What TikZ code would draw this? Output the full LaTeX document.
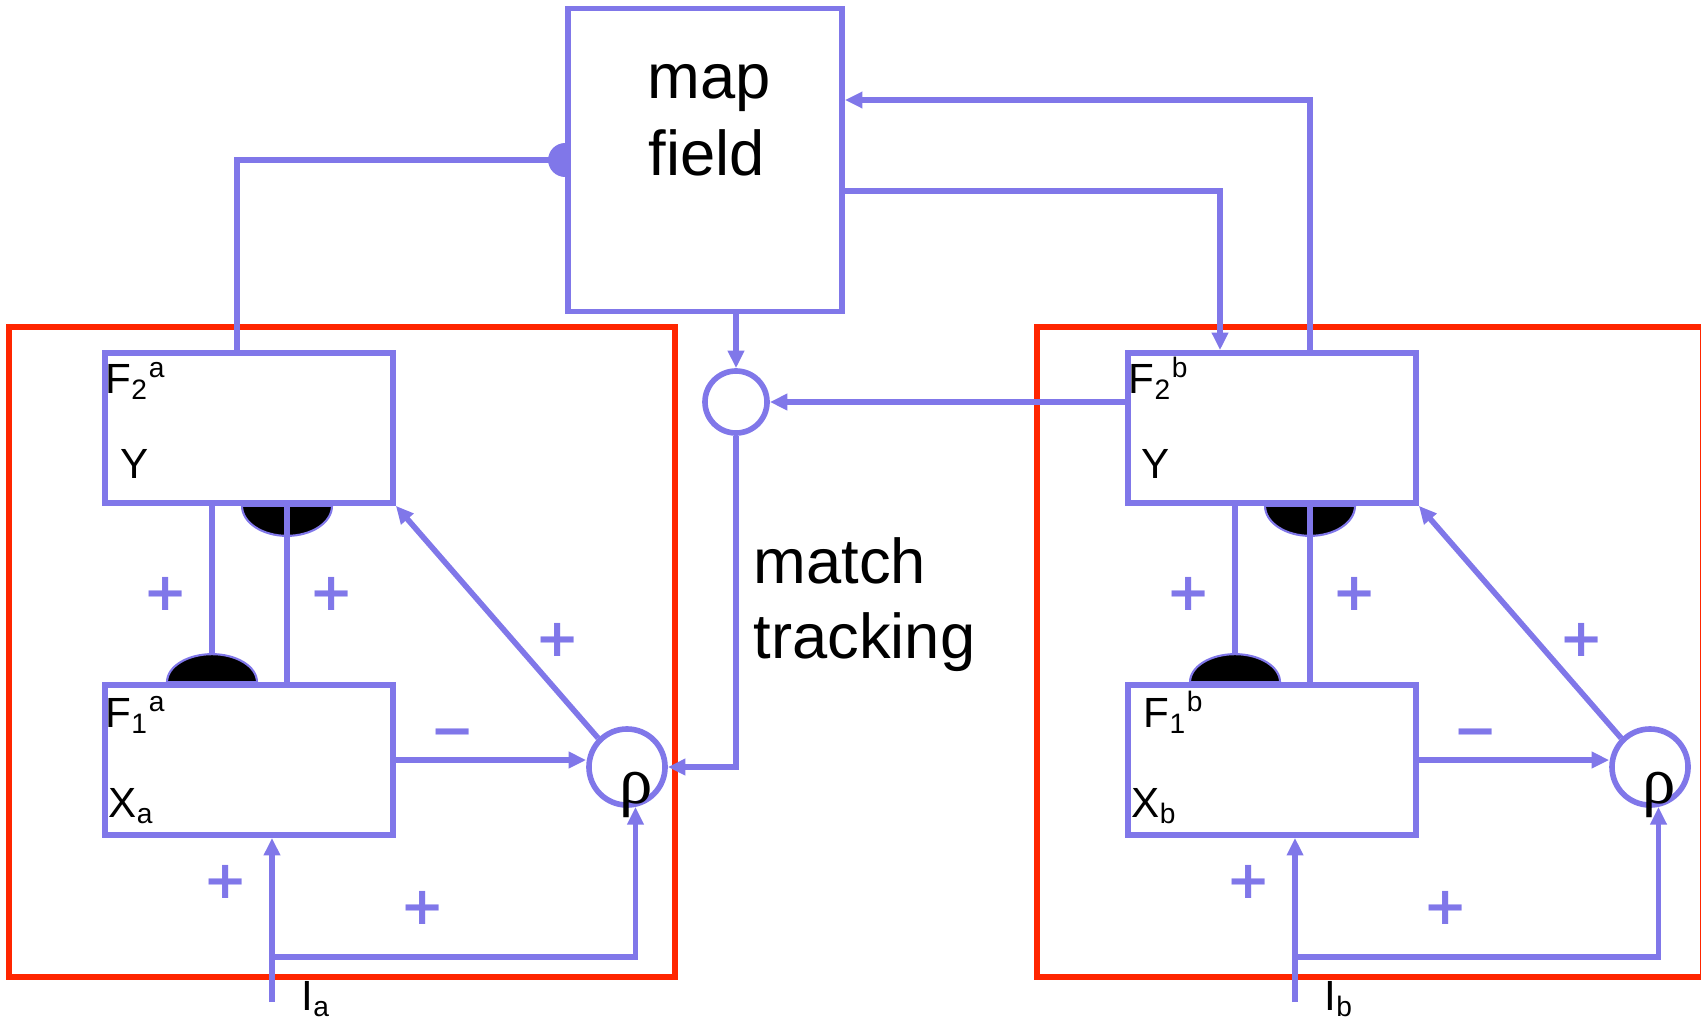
\documentclass[tikz,border=0pt]{standalone}
\usepackage{fontspec}
\setmainfont{Liberation Sans}
\newfontfamily\rhofont{Liberation Serif}
\newfontfamily\signfont{DejaVu Sans}
\usetikzlibrary{arrows.meta}
\definecolor{lav}{RGB}{128,119,233}
\definecolor{boxred}{RGB}{255,38,0}
\tikzset{
  wire/.style={draw=lav, line width=1.6pt},
  arr/.style={wire, -{Triangle[length=5pt,width=4.5pt]}},
  layer/.style={draw=lav, line width=1.6pt, rectangle, minimum width=2.88cm, minimum height=1.5cm, inner sep=0pt},
  sumnode/.style={draw=lav, line width=1.6pt, circle, inner sep=0pt},
  syn/.style={fill=black, draw=lav, line width=0.6pt},
  sign/.style={text=lav, inner sep=0pt, font=\signfont\bfseries\fontsize{15}{15}\selectfont},
  lbl/.style={anchor=base west, inner sep=0pt, font=\fontsize{12}{14}\selectfont},
  big/.style={inner sep=0pt, font=\fontsize{18}{22}\selectfont},
  rhotxt/.style={anchor=base, inner sep=0pt, font=\rhofont\fontsize{19}{19}\selectfont},
  redbox/.style={draw=boxred, line width=1.6pt}
}

\begin{document}
\begin{tikzpicture}[x=0.01cm, y=-0.01cm]
    \useasboundingbox (0,0) rectangle (1701,1024);

    % module frames
    \draw[redbox] (9,327) rectangle (675,977);
    \draw[redbox] (1037,327) rectangle (1703,977);

    % map field and match tracking
    \node[draw=lav, line width=1.6pt, minimum width=2.74cm, minimum height=3.03cm] (map) at (705,160) {};
    \node[big, anchor=base] (maptxt) at (709,98) {map};
    \node[big, anchor=base] (fieldtxt) at (707,175) {field};
    \node[sumnode, minimum size=0.62cm] (mt) at (736,402) {};
    \node[big, anchor=base west] (mttxt1) at (753,583) {match};
    \node[big, anchor=base west] (mttxt2) at (753,658) {tracking};

    % ART a side
    \node[layer] (f2a) at (249,428) {};
    \node[layer] (f1a) at (249,760) {};
    \node[sumnode, minimum size=0.76cm] (rhoa) at (627,767) {};
    \node[lbl] (f2atxt) at (105,393) {F\textsubscript{2}\textsuperscript{a}};
    \node[lbl] (yatxt) at (120,478) {Y};
    \node[lbl] (f1atxt) at (105,727) {F\textsubscript{1}\textsuperscript{a}};
    \node[lbl] (xatxt) at (108,817) {X\textsubscript{a}};
    \node[lbl] (iatxt) at (301,1010) {I\textsubscript{a}};
    \node[rhotxt] (rhoatxt) at (636,803) {ρ};

    \coordinate (tda) at (212,0);
    \coordinate (bua) at (287,0);
    \filldraw[syn] (bua |- f2a.south) ++(-45,0) arc[start angle=180, end angle=0, x radius=45, y radius=30] -- cycle;
    \draw[wire] (tda |- f2a.south) -- (tda |- f1a.north);
    \draw[wire] (bua |- f1a.north) -- (bua |- f2a.south);
    \filldraw[syn] (tda |- f1a.north) ++(-45,0) arc[start angle=180, end angle=360, x radius=45, y radius=28] -- cycle;

    \draw[arr] (rhoa.135) -- (f2a.south east);
    \draw[arr] (f1a.east) -- (f1a.east -| rhoa.west);
    \coordinate (ina) at (272,1002);
    \coordinate (bra) at (272,957);
    \draw[arr] (ina) -- (ina |- f1a.south);
    \draw[arr] (bra) -| (rhoa.-78);

    \node[sign] (pa1) at (166,594) {+};
    \node[sign] (pa2) at (332,594) {+};
    \node[sign] (pa3) at (558,640) {+};
    \node[sign] (pa4) at (226,882) {+};
    \node[sign] (pa5) at (423,908) {+};
    \node[sign] (ma1) at (453,739) {−};

    % ART b side
    \node[layer] (f2b) at (1272,428) {};
    \node[layer] (f1b) at (1272,760) {};
    \node[sumnode, minimum size=0.76cm] (rhob) at (1650,767) {};
    \node[lbl] (f2btxt) at (1128,393) {F\textsubscript{2}\textsuperscript{b}};
    \node[lbl] (ybtxt) at (1141,478) {Y};
    \node[lbl] (f1btxt) at (1143,727) {F\textsubscript{1}\textsuperscript{b}};
    \node[lbl] (xbtxt) at (1131,817) {X\textsubscript{b}};
    \node[lbl] (ibtxt) at (1324,1010) {I\textsubscript{b}};
    \node[rhotxt] (rhobtxt) at (1659,803) {ρ};

    \coordinate (tdb) at (1235,0);
    \coordinate (bub) at (1310,0);
    \filldraw[syn] (bub |- f2b.south) ++(-45,0) arc[start angle=180, end angle=0, x radius=45, y radius=30] -- cycle;
    \draw[wire] (tdb |- f2b.south) -- (tdb |- f1b.north);
    \draw[wire] (bub |- f1b.north) -- (bub |- f2b.south);
    \filldraw[syn] (tdb |- f1b.north) ++(-45,0) arc[start angle=180, end angle=360, x radius=45, y radius=28] -- cycle;

    \draw[arr] (rhob.135) -- (f2b.south east);
    \draw[arr] (f1b.east) -- (f1b.east -| rhob.west);
    \coordinate (inb) at (1295,1002);
    \coordinate (brb) at (1295,957);
    \draw[arr] (inb) -- (inb |- f1b.south);
    \draw[arr] (brb) -| (rhob.-78);

    \node[sign] (pb1) at (1189,594) {+};
    \node[sign] (pb2) at (1355,594) {+};
    \node[sign] (pb3) at (1582,640) {+};
    \node[sign] (pb4) at (1249,882) {+};
    \node[sign] (pb5) at (1446,908) {+};
    \node[sign] (mb1) at (1476,739) {−};

    % links through the map field
    \coordinate (froma) at (237,160);
    \draw[wire] (froma |- f2a.north) -- (froma) -- (map.west);
    \fill[lav] (map.west) ++(0,-17) arc[start angle=270, end angle=90, radius=17] -- cycle;
    \coordinate (tob) at (1220,191);
    \draw[arr] (map.east |- tob) -- (tob) -- (tob |- f2b.north);
    \coordinate (fromb) at (1310,100);
    \draw[arr] (fromb |- f2b.north) -- (fromb) -- (fromb -| map.east);

    % match tracking loop
    \draw[arr] (mt.north |- map.south) -- (mt.north);
    \draw[arr] (mt.east -| f2b.west) -- (mt.east);
    \draw[arr] (mt.south) |- (rhoa.east);
\end{tikzpicture}
\end{document}
